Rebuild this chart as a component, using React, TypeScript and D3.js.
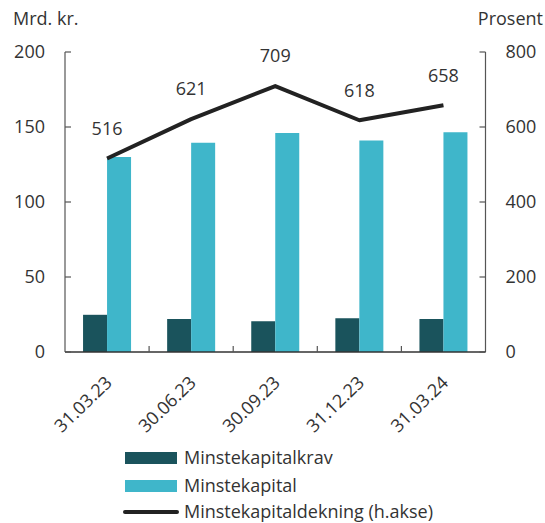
import React from "react";
import * as d3 from "d3";

const categories = ["31.03.23", "30.06.23", "30.09.23", "31.12.23", "31.03.24"];
const minstekapitalkrav = [24.8, 22, 20.5, 22.5, 22];
const minstekapital = [130, 139.5, 146, 141, 146.5];
const dekning = [516, 621, 709, 618, 658];
const leftTicks = [0, 50, 100, 150, 200];
const rightTicks = [0, 200, 400, 600, 800];
const seriesNames = ["Minstekapitalkrav", "Minstekapital", "Minstekapitaldekning (h.akse)"];

const W = 545, H = 523;
const M = { left: 65, right: 485.5, top: 52, bottom: 352 };
const DARK = "#1a535c";
const LIGHT = "#3fb6ca";
const LINE = "#222222";
const AXIS = "#555555";
const TEXT = "#333333";
const FONT = "'Open Sans', sans-serif";
const FS = 18;

export default function App() {
  const x = d3.scaleBand<string>().domain(categories).range([M.left, M.right]);
  const yL = d3.scaleLinear().domain([0, 200]).range([M.bottom, M.top]);
  const yR = d3.scaleLinear().domain([0, 800]).range([M.bottom, M.top]);
  const bw = 24;
  const cx = (c: string) => (x(c) as number) + x.bandwidth() / 2;
  const line = d3
    .line<number>()
    .x((_, i) => cx(categories[i]))
    .y((d) => yR(d));

  return (
    <svg width={W} height={H} style={{ position: "absolute", left: 0, top: 0, fontFamily: FONT }}>
      <rect width={W} height={H} fill="#fff" />
      <text x={13} y={25} fontSize={FS} fill={TEXT}>Mrd. kr.</text>
      <text x={543} y={25} fontSize={FS} fill={TEXT} textAnchor="end">Prosent</text>

      {/* bars */}
      {categories.map((c, i) => (
        <g key={c}>
          <rect x={cx(c) - bw} y={yL(minstekapitalkrav[i])} width={bw} height={M.bottom - yL(minstekapitalkrav[i])} fill={DARK} />
          <rect x={cx(c)} y={yL(minstekapital[i])} width={bw} height={M.bottom - yL(minstekapital[i])} fill={LIGHT} />
        </g>
      ))}

      {/* axes */}
      <line x1={M.left} x2={M.left} y1={M.top} y2={M.bottom} stroke={AXIS} strokeWidth={1.2} />
      <line x1={M.right} x2={M.right} y1={M.top} y2={M.bottom} stroke={AXIS} strokeWidth={1.2} />
      <line x1={M.left} x2={M.right} y1={M.bottom} y2={M.bottom} stroke="#333" strokeWidth={1.5} />
      {leftTicks.map((t) => (
        <g key={"l" + t}>
          <line x1={M.left} x2={M.left + 6} y1={yL(t)} y2={yL(t)} stroke={AXIS} strokeWidth={1.2} />
          <text x={M.left - 20} y={yL(t)} dy="0.35em" fontSize={FS} fill={TEXT} textAnchor="end">{t}</text>
        </g>
      ))}
      {rightTicks.map((t) => (
        <g key={"r" + t}>
          <line x1={M.right - 6} x2={M.right} y1={yR(t)} y2={yR(t)} stroke={AXIS} strokeWidth={1.2} />
          <text x={M.right + 20} y={yR(t)} dy="0.35em" fontSize={FS} fill={TEXT}>{t}</text>
        </g>
      ))}
      {categories.slice(1).map((c) => (
        <line key={"t" + c} x1={x(c) as number} x2={x(c) as number} y1={M.bottom} y2={M.bottom - 6} stroke={AXIS} strokeWidth={1.2} />
      ))}
      {categories.map((c) => (
        <text
          key={"xl" + c}
          transform={`translate(${cx(c) + 6},${M.bottom + 32}) rotate(-44)`}
          textAnchor="end"
          fontSize={FS}
          fill={TEXT}
        >
          {c}
        </text>
      ))}

      {/* line */}
      <path d={line(dekning) || ""} fill="none" stroke={LINE} strokeWidth={4} strokeLinejoin="round" />
      {dekning.map((v, i) => (
        <text key={"d" + i} x={cx(categories[i])} y={yR(v) - 30} dy="0.35em" textAnchor="middle" fontSize={FS} fill={TEXT}>
          {v}
        </text>
      ))}

      {/* legend */}
      <rect x={125} y={452} width={52} height={12} fill={DARK} />
      <text x={184} y={458} dy="0.35em" fontSize={FS} fill={TEXT}>{seriesNames[0]}</text>
      <rect x={125} y={480} width={52} height={12} fill={LIGHT} />
      <text x={184} y={486} dy="0.35em" fontSize={FS} fill={TEXT}>{seriesNames[1]}</text>
      <line x1={125} x2={177} y1={512} y2={512} stroke={LINE} strokeWidth={4} strokeLinecap="round" />
      <text x={184} y={512} dy="0.35em" fontSize={FS} fill={TEXT}>{seriesNames[2]}</text>
    </svg>
  );
}
